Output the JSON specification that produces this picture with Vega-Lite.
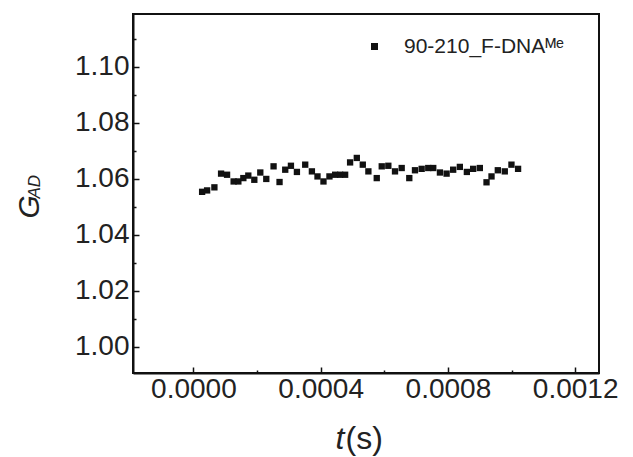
{
  "$schema": "https://vega.github.io/schema/vega-lite/v6.json",
  "width": 466,
  "height": 359,
  "autosize": "none",
  "padding": {"left": 133, "top": 14, "right": 34, "bottom": 84},
  "background": "white",
  "config": {
    "font": "Liberation Sans",
    "view": {"stroke": "#111", "strokeWidth": 2},
    "axis": {"grid": false, "domainColor": "#111", "domainWidth": 2, "tickColor": "#111", "tickWidth": 1.5, "labelColor": "#222", "titleColor": "#222", "labelFont": "Liberation Sans", "titleFont": "Liberation Sans", "titleFontWeight": "normal"}
  },
  "data": {"values": [
    {"t": 0.0000273, "G": 1.0553, "series": "90-210_F-DNAᴹᵉ"},
    {"t": 0.0000430, "G": 1.0558, "series": "90-210_F-DNAᴹᵉ"},
    {"t": 0.0000659, "G": 1.0569, "series": "90-210_F-DNAᴹᵉ"},
    {"t": 0.0000869, "G": 1.0618, "series": "90-210_F-DNAᴹᵉ"},
    {"t": 0.0001057, "G": 1.0614, "series": "90-210_F-DNAᴹᵉ"},
    {"t": 0.0001264, "G": 1.0590, "series": "90-210_F-DNAᴹᵉ"},
    {"t": 0.0001412, "G": 1.0590, "series": "90-210_F-DNAᴹᵉ"},
    {"t": 0.0001569, "G": 1.0602, "series": "90-210_F-DNAᴹᵉ"},
    {"t": 0.0001725, "G": 1.0611, "series": "90-210_F-DNAᴹᵉ"},
    {"t": 0.0001914, "G": 1.0596, "series": "90-210_F-DNAᴹᵉ"},
    {"t": 0.0002102, "G": 1.0622, "series": "90-210_F-DNAᴹᵉ"},
    {"t": 0.0002290, "G": 1.0599, "series": "90-210_F-DNAᴹᵉ"},
    {"t": 0.0002519, "G": 1.0644, "series": "90-210_F-DNAᴹᵉ"},
    {"t": 0.0002707, "G": 1.0588, "series": "90-210_F-DNAᴹᵉ"},
    {"t": 0.0002886, "G": 1.0632, "series": "90-210_F-DNAᴹᵉ"},
    {"t": 0.0003065, "G": 1.0646, "series": "90-210_F-DNAᴹᵉ"},
    {"t": 0.0003253, "G": 1.0624, "series": "90-210_F-DNAᴹᵉ"},
    {"t": 0.0003514, "G": 1.0650, "series": "90-210_F-DNAᴹᵉ"},
    {"t": 0.0003724, "G": 1.0626, "series": "90-210_F-DNAᴹᵉ"},
    {"t": 0.0003900, "G": 1.0608, "series": "90-210_F-DNAᴹᵉ"},
    {"t": 0.0004088, "G": 1.0590, "series": "90-210_F-DNAᴹᵉ"},
    {"t": 0.0004276, "G": 1.0608, "series": "90-210_F-DNAᴹᵉ"},
    {"t": 0.0004455, "G": 1.0614, "series": "90-210_F-DNAᴹᵉ"},
    {"t": 0.0004612, "G": 1.0614, "series": "90-210_F-DNAᴹᵉ"},
    {"t": 0.0004769, "G": 1.0614, "series": "90-210_F-DNAᴹᵉ"},
    {"t": 0.0004925, "G": 1.0658, "series": "90-210_F-DNAᴹᵉ"},
    {"t": 0.0005136, "G": 1.0674, "series": "90-210_F-DNAᴹᵉ"},
    {"t": 0.0005324, "G": 1.0650, "series": "90-210_F-DNAᴹᵉ"},
    {"t": 0.0005500, "G": 1.0626, "series": "90-210_F-DNAᴹᵉ"},
    {"t": 0.0005763, "G": 1.0602, "series": "90-210_F-DNAᴹᵉ"},
    {"t": 0.0005920, "G": 1.0644, "series": "90-210_F-DNAᴹᵉ"},
    {"t": 0.0006127, "G": 1.0646, "series": "90-210_F-DNAᴹᵉ"},
    {"t": 0.0006337, "G": 1.0626, "series": "90-210_F-DNAᴹᵉ"},
    {"t": 0.0006547, "G": 1.0638, "series": "90-210_F-DNAᴹᵉ"},
    {"t": 0.0006786, "G": 1.0602, "series": "90-210_F-DNAᴹᵉ"},
    {"t": 0.0006965, "G": 1.0630, "series": "90-210_F-DNAᴹᵉ"},
    {"t": 0.0007175, "G": 1.0635, "series": "90-210_F-DNAᴹᵉ"},
    {"t": 0.0007382, "G": 1.0638, "series": "90-210_F-DNAᴹᵉ"},
    {"t": 0.0007539, "G": 1.0638, "series": "90-210_F-DNAᴹᵉ"},
    {"t": 0.0007749, "G": 1.0622, "series": "90-210_F-DNAᴹᵉ"},
    {"t": 0.0007959, "G": 1.0618, "series": "90-210_F-DNAᴹᵉ"},
    {"t": 0.0008166, "G": 1.0632, "series": "90-210_F-DNAᴹᵉ"},
    {"t": 0.0008376, "G": 1.0642, "series": "90-210_F-DNAᴹᵉ"},
    {"t": 0.0008596, "G": 1.0624, "series": "90-210_F-DNAᴹᵉ"},
    {"t": 0.0008794, "G": 1.0635, "series": "90-210_F-DNAᴹᵉ"},
    {"t": 0.0009004, "G": 1.0638, "series": "90-210_F-DNAᴹᵉ"},
    {"t": 0.0009214, "G": 1.0587, "series": "90-210_F-DNAᴹᵉ"},
    {"t": 0.0009371, "G": 1.0608, "series": "90-210_F-DNAᴹᵉ"},
    {"t": 0.0009569, "G": 1.0630, "series": "90-210_F-DNAᴹᵉ"},
    {"t": 0.0009788, "G": 1.0626, "series": "90-210_F-DNAᴹᵉ"},
    {"t": 0.0009998, "G": 1.0650, "series": "90-210_F-DNAᴹᵉ"},
    {"t": 0.0010206, "G": 1.0635, "series": "90-210_F-DNAᴹᵉ"}
  ]},
  "layer": [
    {
      "mark": {"type": "point", "shape": "square", "filled": true, "size": 40, "opacity": 1},
      "encoding": {
        "x": {"field": "t", "type": "quantitative",
          "scale": {"domain": [-0.00019, 0.001275], "nice": false, "zero": false},
          "axis": {"orient": "bottom", "values": [0, 0.0004, 0.0008, 0.0012], "format": ".4f", "tickSize": -6, "labelFontSize": 28, "labelPadding": 8, "labelFlush": false,
            "title": "t", "titleFontStyle": "italic", "titleFontSize": 32, "titleX": 202, "titleY": 75, "titleAlign": "left", "titleBaseline": "alphabetic"}},
        "y": {"field": "G", "type": "quantitative",
          "scale": {"domain": [0.9906, 1.1188], "nice": false, "zero": false},
          "axis": {"orient": "left", "values": [1.0, 1.02, 1.04, 1.06, 1.08, 1.1], "format": ".2f", "tickSize": -6, "labelFontSize": 28, "labelPadding": 10, "labelFlush": false,
            "title": "G", "titleFontStyle": "italic", "titleFontSize": 30, "titleAngle": -90, "titleX": -95, "titleY": 204, "titleAlign": "left", "titleBaseline": "alphabetic"}},
        "color": {"field": "series", "type": "nominal", "scale": {"range": ["#111111"]},
          "legend": {"title": null, "orient": "none", "legendX": 231, "legendY": 22, "symbolType": "square", "symbolSize": 49, "labelFontSize": 21, "labelFont": "Liberation Sans", "labelColor": "#222", "labelOffset": 19, "labelLimit": 400}}
      }
    },
    {
      "mark": {"type": "point", "opacity": 0},
      "encoding": {
        "x": {"field": "t", "type": "quantitative",
          "axis": {"orient": "bottom", "values": [0.0002, 0.0006, 0.001], "labels": false, "domain": false, "tickSize": -3,
            "title": "(s)", "titleFontStyle": "normal", "titleFontSize": 32, "titleX": 212, "titleY": 75, "titleAlign": "left", "titleBaseline": "alphabetic"}},
        "y": {"field": "G", "type": "quantitative",
          "axis": {"orient": "left", "values": [1.01, 1.03, 1.05, 1.07, 1.09, 1.11], "labels": false, "domain": false, "tickSize": -3,
            "title": "AD", "titleFontStyle": "italic", "titleFontSize": 17, "titleAngle": -90, "titleX": -94, "titleY": 184, "titleAlign": "left", "titleBaseline": "alphabetic"}}
      }
    }
  ],
  "resolve": {"axis": {"x": "independent", "y": "independent"}}
}
